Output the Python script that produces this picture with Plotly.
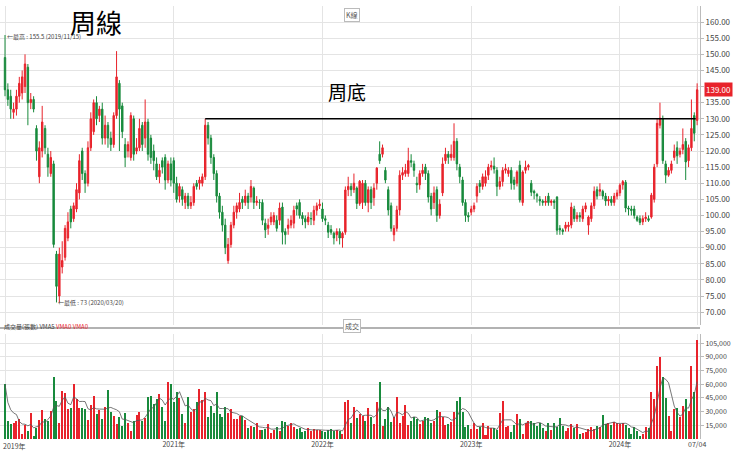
import plotly.graph_objects as go

opens = [149,139,137,132,133,137,138,140,146,135,136,127,112,120,127,119,113,116,88,75,
84,87,93,102,99,102,107,120,113,110,121,126,135,131,133,124,128,124,122,131,
141,134,122,120,118,130,120,121,128,124,129,124,120,116,112,117,118,111,116,117,
110,106,108,104,106,103,104,110,110,110,112,128,124,118,113,106,101,97,86,91,
97,101,102,105,104,106,105.7,108.5,104,104,104,97.6,96,98,98,98.5,98.5,102.6,95,96,
97,97.6,103,104,100,99,98,99,98.5,101.6,103,102,99,97,95.6,94.5,94,95,93,94.8,
108,109,108,108.5,103.7,104,110,104,108,105.5,110,119,119,114,108,103,94,96,101.7,112.5,
113,113,117,116,110,109.5,113,115,113,106,104,108,100,107,117,119,118,118,123,115,
111,104,100,101,102,106,110,109,110,112.5,115,115.3,114,109,110.5,114,113,114,111,110,
115.6,104,114,115,110,107.5,106.5,105,104.5,104,106,104,104.5,105.7,96,95.5,96,96.5,97,102,
99,100,99,102,97,99,103,108,107.5,107.5,106,104.5,105,104,106,107,109.5,110.3,102.3,102,
102,99.5,99,98,99,99,99.5,105,116,128,130,116,112.5,114,118,121,119,120.5,123,117,
121,131,129.5]
closes = [139,136,133,133,137,141,143,147,135,136,133,120,121,129,121,115,118,91,78,88,
86,96,98,98,103,108,117,113,110,121,130,135,130,133,124,128,124,122,131,143,
133,126,118,122,131,119,121,127,122,129,119,118,117,112,114,115,111,116,111,110,
105,109,105,106,103,104,109,109,111,112,128,124,118,113,106,101,97,90,91,97,
101,103,104,104,106,104,109,104,104.5,104,98.5,95.5,97,99.5,100,96,102.3,94.8,94,97,
98.5,101.6,102,100,99,98,99.5,99,101.6,103,103.5,99,98.5,94.8,94.8,93,95,93,94.5,107.9,
109,108,110,103.7,110.6,110,104,108,104,108.5,114.7,117,121,111,101.7,96,96,101.7,112.5,113.3,
114,117,116.5,114,109.5,113,114,113,105.7,102,107,100,103.5,116,119,118,119,123,116,112,
104,100,99.5,102,103,109,109,112,112,115,115.5,114.4,109,110.5,114,114.5,114,110,109.6,113.5,
104.8,113.5,115,115.5,107.2,107,106,104.5,104,104.5,104,104.5,104,95.4,95.5,95,97,97,102.6,99,
100,99.5,102,103,99.5,103,107.5,106,108,106,104.5,105,104,106,107,109.4,110.5,102.3,102,101.5,
100,98.5,97.8,99,99.5,98.5,106.3,115,128.6,130.2,117,112.5,114,116,120,118.5,120,122,116.6,121,
127,125.5,139]
highs = [156,141,139,135,139,143,145,150,147,138,137,128,123,134,128,121,120,117,89,90,
92,97,101,103,104,110,119,121,114,123,132,136,137,134,135,131,129,126,132,151,
142,135,124,123,132,131,124,130,129,136,130,125,122,118,116,118,119,117,118,118,
112,110,109,107,107,106,110,111,112,113,130,129,125,119,114,107,103,99,93,98,
103,104,107,106,108,107,111,109,106,105,105,99,99,101,101,100,104,104,96,99,
100,103,104,105,101,100,101,101,103,104,105,104,100,98,97,95,96,96,95,109,
112,110,113,109,111,111,111,109,109,110,115,123,122,115,109,104,97,103,114,115,
116,121,119,117,112,114,116,116,114,107,109,109,105,118,121,120,122,128.6,124,116,
112,105,101,103,104,110,111,113,114,116,117,118,115,112,115,116,115,115,112,114,
117,114,117,116,111,108,107,106,105,106,107,105,105,106,97,96,98,98,104,103,
101,101,103,104,100,104,109,109,110,108,107,106,106,107,108,110,111,111,103,103,
103,100,100,100,101,100,107,116,130,135,131,117,115,117,122,123,121,127,124,122,
136,132,141]
lows = [137,134,130,130,131,135,136,138,128,133,132,117,110,118,119,112,112,90,73,73,
82,86,92,96,98,101,105,111,107,109,120,125,128,129,122,122,121,120,121,130,
120,124,115,118,117,117,119,120,120,121,117,116,114,111,110,113,108,110,109,107,
104,104,103,102,102,102,103,108,108,109,111,122,116,111,104,99,95,88,85,90,
96,99,101,102,103,102,104,102,103,102,97,93,94,97,97,95,97,91,91,94,
96,96,100,99,97,96,97,97,97,100,102,98,97,93,94,91,92,91,90,94,
106,106,107,102,103,102,103,101,102,103,108,116,118,110,100,95,92,95,100,111,
112,112,115,112,107,108,112,111,104,100,102,98,99,106,116,116,117,117,114,110,
103,98,98,100,101,104,107,108,109,111,114,113,106,108,109,113,112,108,108,109,
104,103,113,114,106,105,104,103,103,103,103,103,102,94,94,94,95,95,96,98,
98,98,98,101,94,98,102,105,106,105,103,103,103,103,105,106,108,101,100,100,
99,98,97,97,98,98,99,104,115,127,116,110,112,113,117,116,118,119,111,115,
120,123,128]
volumes = [60000,20000,16000,18000,20000,22000,6000,15000,9000,28000,
3000,12000,21000,32000,22000,20000,31000,68000,42000,18000,
53000,50000,33000,34000,60000,44000,34000,34000,33000,21000,
37000,47000,27000,32000,22000,35000,54000,30000,25000,16000,
24000,14000,28000,18000,9000,20000,26000,30000,20000,23000,
46000,47000,38000,44000,49000,35000,20000,62000,60000,40000,
52000,45000,27000,17000,46000,30000,33000,40000,55000,43000,
52000,24000,36000,28000,52000,27000,24000,35000,28000,33000,
22000,22000,25000,25000,21000,12000,14000,13000,17000,10000,
10000,11000,16000,7000,10000,13000,9000,20000,19000,14000,
17000,13000,11000,12000,8000,9000,12000,9000,11000,10000,
10000,9000,8000,10000,11000,9000,10000,9000,5000,40000,
43000,18000,35000,23000,27000,25000,20000,34000,24000,16000,
41000,62000,14000,22000,35000,19000,24000,46000,18000,25000,
37000,15000,20000,24000,22000,16000,20000,24000,23000,18000,
20000,32000,30000,24000,15000,16000,19000,30000,42000,46000,
30000,13000,15000,11000,18000,11000,13000,17000,4000,14000,
12000,12000,10000,28000,42000,13000,14000,8000,15000,27000,
22000,5000,17000,20000,20000,18000,14000,18000,12000,9000,
17000,10000,18000,13000,23000,14000,9000,12000,16000,12000,
16000,5000,7000,8000,11000,13000,11000,14000,13000,26000,
16000,17000,15000,19000,18000,16000,18000,15000,12000,5000,
13000,9000,3000,5000,13000,12000,52000,44000,80000,90000,
68000,45000,25000,9000,33000,34000,24000,36000,44000,31000,
80000,52000,108000]
year_ticks = [0, 59, 111, 163, 215, 242]
year_labels = ["", "2021年", "2022年", "2023年", "2024年", "07/04"]
first_label = "2019年"
price_ticks = [70,75,80,85,90,95,100,105,110,115,120,125,130,135,140,145,150,155,160]
vol_ticks = [15000,30000,45000,60000,75000,90000,105000]
resistance = 130
hi_label = "最高 : 155.5 (2019/11/15)"
lo_label = "最低 : 73 (2020/03/20)"

n = len(closes)
idx = list(range(n))
RED, GREEN = "#e8232b", "#188a3c"
vcolors = [RED if c >= o else GREEN for o, c in zip(opens, closes)]
vma = [sum(volumes[max(0, i-4):i+1]) / len(volumes[max(0, i-4):i+1]) for i in idx]

fig = go.Figure()
fig.add_trace(go.Candlestick(x=idx, open=opens, high=highs, low=lows, close=closes,
    increasing=dict(line=dict(color=RED, width=1), fillcolor=RED),
    decreasing=dict(line=dict(color=GREEN, width=1), fillcolor=GREEN),
    whiskerwidth=0, xaxis="x", yaxis="y", showlegend=False))
fig.add_trace(go.Bar(x=idx, y=volumes, marker=dict(color=vcolors, line=dict(width=0)),
    width=0.7, xaxis="x2", yaxis="y2", showlegend=False))
fig.add_trace(go.Scatter(x=idx, y=vma, mode="lines", line=dict(color="#555", width=0.8),
    xaxis="x2", yaxis="y2", showlegend=False))

xr = [-1.75, 243]
grid = "#e4e4e4"
H = 452
def py(p):
    return 1 - p / H
fig.update_layout(
    width=740, height=452, margin=dict(l=0, r=40, t=0, b=0, autoexpand=False),
    paper_bgcolor="white", plot_bgcolor="white", bargap=0,
    font=dict(family="Noto Sans CJK TC", size=8, color="#444"),
    xaxis=dict(domain=[0, 1], range=xr, rangeslider=dict(visible=False), showticklabels=False,
               tickvals=year_ticks, showgrid=True, gridcolor=grid, zeroline=False, anchor="y",
               automargin=False),
    yaxis=dict(domain=[py(325), py(6)], range=[66, 165], side="right", tickvals=price_ticks,
               tickformat=".2f", gridcolor=grid, showline=True, linecolor="#bbb",
               ticks="outside", ticklen=3, tickcolor="#bbb", zeroline=False, anchor="x",
               automargin=False, tickfont=dict(size=8)),
    xaxis2=dict(domain=[0, 1], range=xr, tickvals=year_ticks, ticktext=year_labels,
                showgrid=True, gridcolor=grid, zeroline=False, anchor="y2", ticklen=0,
                tickfont=dict(size=7), automargin=False),
    yaxis2=dict(domain=[py(439), py(334)], range=[0, 115000], side="right", tickvals=vol_ticks,
                tickformat=",d", gridcolor=grid, showline=True, linecolor="#bbb",
                ticks="outside", ticklen=3, tickcolor="#bbb", zeroline=False, anchor="x2",
                automargin=False, tickfont=dict(size=7)),
    shapes=[
        dict(type="line", xref="x", yref="y", x0=70, x1=241.5, y0=resistance, y1=resistance,
             line=dict(color="black", width=1.5)),
        dict(type="line", xref="paper", yref="paper", x0=0, x1=1, y0=py(328), y1=py(328),
             line=dict(color="#999", width=1.5)),
    ],
    annotations=[
        dict(text="周線", xref="paper", yref="paper", x=96/700, y=py(22), showarrow=False,
             font=dict(size=26, color="black"), xanchor="center", yanchor="middle"),
        dict(text="周底", xref="paper", yref="paper", x=347/700, y=py(92), showarrow=False,
             font=dict(size=19, color="black"), xanchor="center", yanchor="middle"),
        dict(text="K線", xref="paper", yref="paper", x=352/700, y=py(8), showarrow=False,
             font=dict(size=7, color="#555"), bordercolor="#bbb", borderwidth=1, borderpad=1,
             bgcolor="white"),
        dict(text="成交", xref="paper", yref="paper", x=352/700, y=py(333), showarrow=False,
             font=dict(size=7, color="#555"), bordercolor="#bbb", borderwidth=1, borderpad=1,
             bgcolor="white"),
        dict(text="成交量(張數) VMA5 <span style='color:#e8232b'>VMA0 VMA0</span>",
             xref="paper", yref="paper", x=2/700, y=py(333), showarrow=False,
             xanchor="left", font=dict(size=6, color="#444")),
        dict(text="←" + hi_label, xref="x", yref="y", x=0, y=155.5, showarrow=False,
             xanchor="left", font=dict(size=6, color="#444")),
        dict(text="←" + lo_label, xref="x", yref="y", x=18, y=73, showarrow=False,
             xanchor="left", font=dict(size=6, color="#444")),
        dict(text=first_label, xref="paper", yref="paper", x=0.002, y=py(446), showarrow=False,
             xanchor="left", yanchor="middle", font=dict(size=7, color="#444")),
        dict(text="%.2f" % closes[-1], xref="paper", yref="y", x=1.0, y=closes[-1],
             showarrow=False, xanchor="left", bgcolor=RED, font=dict(size=8, color="white"),
             borderpad=1, xshift=4),
    ],
)
fig.write_html("out.html", config={"displayModeBar": False},
               post_script="document.body.style.margin='0';document.body.style.overflow='hidden';")
